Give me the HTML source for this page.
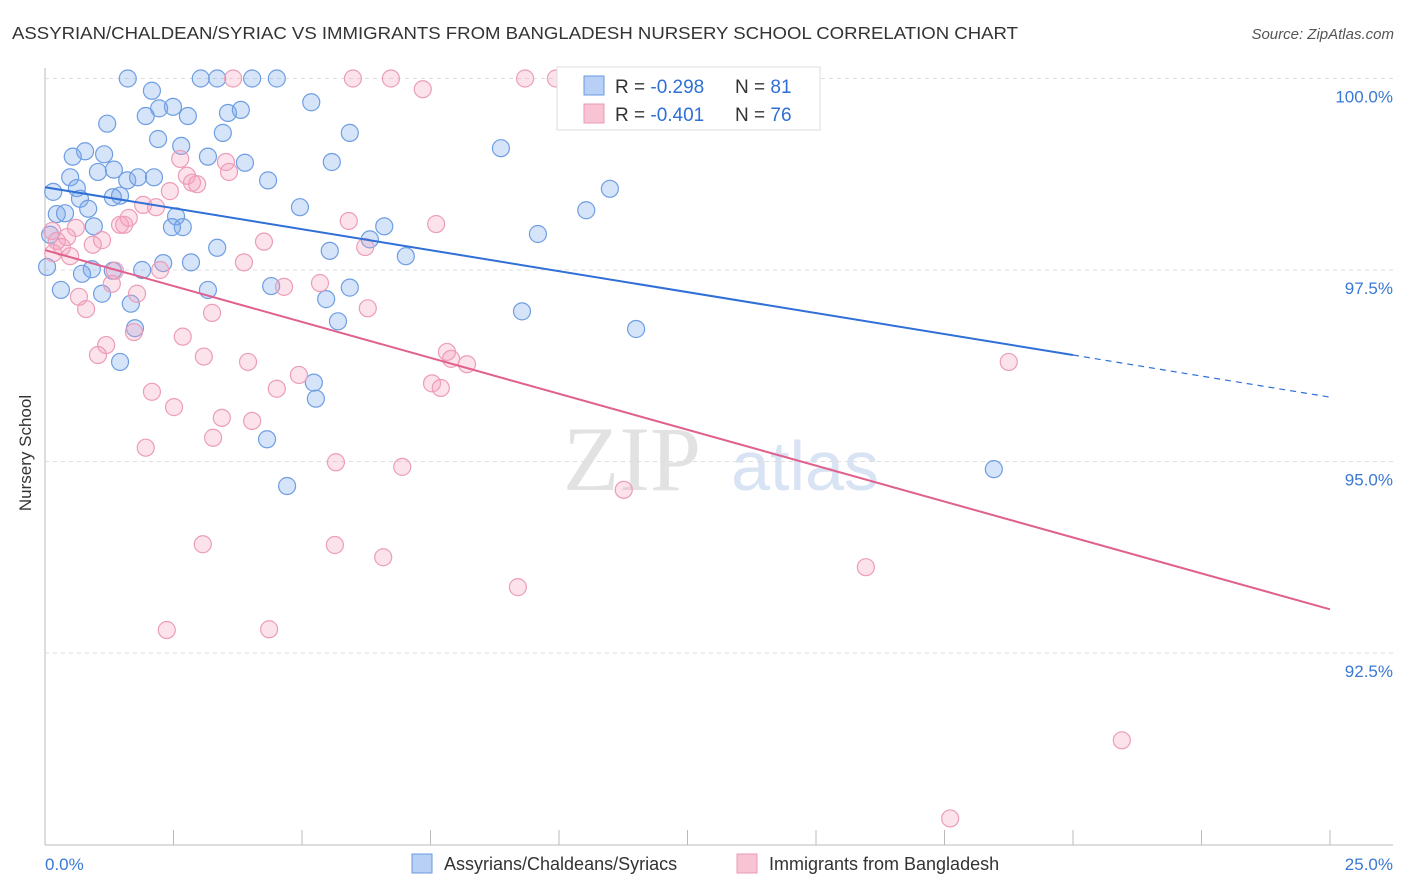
<!DOCTYPE html>
<html><head><meta charset="utf-8"><style>
body{margin:0;background:#fff;font-family:"Liberation Sans",sans-serif;}
svg{display:block}
</style></head><body>
<svg id="chart" width="1406" height="892">
<text x="12" y="39" font-size="17.5" fill="#333" textLength="1006" lengthAdjust="spacingAndGlyphs">ASSYRIAN/CHALDEAN/SYRIAC VS IMMIGRANTS FROM BANGLADESH NURSERY SCHOOL CORRELATION CHART</text>
<text x="1394" y="39" font-size="15" fill="#555" font-style="italic" text-anchor="end">Source: ZipAtlas.com</text>
<text x="33" y="455" font-size="17" fill="#333" text-anchor="middle" transform="rotate(-90 31 455)">Nursery School</text>
<g><text x="632" y="490" font-size="92" font-family="Liberation Serif" fill="#e2e2e2" text-anchor="middle">ZIP</text><text x="805" y="490" font-size="70" fill="#d8e3f3" text-anchor="middle">atlas</text></g>
<g id="grid"></g><g id="pts"></g><g id="lines"></g>
<g>
<rect x="557" y="67" width="263" height="63" fill="#fff" stroke="#ddd"/>
<rect x="584" y="76" width="20" height="19" fill="#b8d0f5" stroke="#6a9ae0"/>
<rect x="584" y="104" width="20" height="19" fill="#f8c4d4" stroke="#e89ab5"/>
<text x="615" y="93" font-size="19" fill="#333">R = <tspan fill="#2f6fd6">-0.298</tspan></text>
<text x="735" y="93" font-size="19" fill="#333">N = <tspan fill="#2f6fd6">81</tspan></text>
<text x="615" y="121" font-size="19" fill="#333">R = <tspan fill="#2f6fd6">-0.401</tspan></text>
<text x="735" y="121" font-size="19" fill="#333">N = <tspan fill="#2f6fd6">76</tspan></text>
</g>
<g>
<rect x="412" y="854" width="20" height="19" fill="#b8d0f5" stroke="#6a9ae0"/>
<text x="444" y="870" font-size="18" fill="#333">Assyrians/Chaldeans/Syriacs</text>
<rect x="737" y="854" width="20" height="19" fill="#f8c4d4" stroke="#e89ab5"/>
<text x="769" y="870" font-size="18" fill="#333">Immigrants from Bangladesh</text>
</g>
</svg>
<script>
const blueX=[1.61,3.03,3.35,4.03,4.51,2.08,2.22,2.49,2.78,1.96,3.56,3.81,5.18,1.21,3.46,5.93,2.20,2.65,0.78,0.54,1.15,3.17,3.89,5.58,8.87,1.34,1.03,0.49,1.60,1.81,2.12,4.34,10.99,0.62,0.16,1.46,1.32,0.68,4.96,10.53,0.23,0.39,0.84,2.55,2.47,2.68,0.95,6.60,9.59,6.32,3.35,5.54,7.02,2.30,2.84,0.91,0.72,1.32,1.89,4.40,5.93,0.31,3.17,1.11,5.47,1.67,9.28,5.70,1.75,11.50,1.46,5.23,5.27,4.32,18.46,4.71,0.04,0.10];
const blueY=[100,100,100,100,100,99.84,99.61,99.63,99.51,99.51,99.55,99.59,99.69,99.41,99.29,99.29,99.21,99.12,99.05,98.98,99.01,98.98,98.90,98.91,99.09,98.81,98.78,98.71,98.67,98.71,98.71,98.67,98.56,98.57,98.52,98.47,98.45,98.43,98.32,98.28,98.23,98.24,98.30,98.20,98.06,98.06,98.07,98.07,97.97,97.90,97.79,97.75,97.68,97.59,97.60,97.51,97.45,97.49,97.50,97.29,97.27,97.24,97.24,97.19,97.12,97.06,96.96,96.83,96.74,96.73,96.30,96.03,95.82,95.29,94.90,94.68,97.54,97.96];
const pinkX=[3.66,5.99,6.73,9.34,9.94,7.35,2.63,3.52,3.58,2.76,2.86,2.96,2.43,1.91,2.16,1.63,1.46,1.54,5.91,7.61,0.14,0.60,0.43,1.11,0.23,4.26,0.33,6.23,0.16,0.49,0.93,3.87,2.24,1.36,5.35,4.65,1.30,1.79,0.66,0.80,6.28,3.25,1.73,2.68,1.19,1.03,3.09,3.95,7.82,7.90,8.21,18.75,4.94,7.53,7.70,4.51,2.08,2.51,3.44,4.03,3.27,1.96,5.66,6.95,11.26,3.07,5.64,6.58,15.97,9.20,2.37,4.36,20.95,17.61];
const pinkY=[100,100,100,100,100,99.86,98.95,98.91,98.78,98.73,98.64,98.62,98.53,98.35,98.32,98.18,98.09,98.09,98.14,98.10,98.01,98.05,97.93,97.89,97.88,97.87,97.80,97.80,97.72,97.68,97.83,97.60,97.50,97.49,97.33,97.28,97.32,97.19,97.15,96.99,97.00,96.94,96.69,96.63,96.52,96.39,96.37,96.30,96.43,96.34,96.27,96.30,96.13,96.02,95.96,95.95,95.91,95.71,95.57,95.53,95.31,95.18,94.99,94.93,94.63,93.92,93.91,93.75,93.62,93.36,92.80,92.81,91.36,90.34];
const yTicks=[100,97.5,95,92.5];
const yTickLabels=["100.0%","97.5%","95.0%","92.5%"];
const blueTrend=[[0,98.58],[20,96.39],[25,95.84]];
const pinkTrend=[[0,97.76],[25,93.07]];
const X=v=>45+v/25*1285, Y=v=>78.5+(100-v)*76.6;
const NS="http://www.w3.org/2000/svg";
function mk(tag,attrs,parent){const e=document.createElementNS(NS,tag);for(const k in attrs)e.setAttribute(k,attrs[k]);parent.appendChild(e);return e;}
const grid=document.getElementById('grid');
let ax=mk('line',{x1:45,y1:68,x2:45,y2:845,stroke:'#bbb'},grid);


let bx=mk('line',{x1:45,y1:845,x2:1393,y2:845,stroke:'#bbb'},grid);


yTicks.forEach((t,i)=>{
 const g=mk('line',{x1:45,y1:Y(t),x2:1393,y2:Y(t),stroke:'#ddd','stroke-dasharray':'4,4'},grid);
 
 
 const l=mk('text',{x:1393,y:Y(t)+24,'font-size':17,fill:'#3a78d4','text-anchor':'end'},grid);
 l.textContent=yTickLabels[i];
 
 
});
for(let i=0;i<=10;i++){const x=X(i*2.5);const t=mk('line',{x1:x,y1:830,x2:x,y2:845,stroke:'#bbb'},grid);
 
 }
[["0.0%",45,'start'],["25.0%",1393,'end']].forEach(a=>{const l=mk('text',{x:a[1],y:870,'font-size':17,fill:'#3a78d4','text-anchor':a[2]},grid);l.textContent=a[0];
 
 });
const pts=document.getElementById('pts');
blueX.forEach((v,i)=>{const c=mk('circle',{cx:X(v),cy:Y(blueY[i]),r:8.5,fill:'rgba(120,165,235,0.3)',stroke:'#6e9ee2','stroke-width':1.2},pts);
 
 });
pinkX.forEach((v,i)=>{const c=mk('circle',{cx:X(v),cy:Y(pinkY[i]),r:8.5,fill:'rgba(245,160,190,0.3)',stroke:'#ec9db8','stroke-width':1.2},pts);
 
 });
const lines=document.getElementById('lines');
let b1=mk('line',{x1:X(blueTrend[0][0]),y1:Y(blueTrend[0][1]),x2:X(blueTrend[1][0]),y2:Y(blueTrend[1][1]),stroke:'#2f6fd6','stroke-width':2},lines);


let b2=mk('line',{x1:X(blueTrend[1][0]),y1:Y(blueTrend[1][1]),x2:X(blueTrend[2][0]),y2:Y(blueTrend[2][1]),stroke:'#2f6fd6','stroke-width':1.2,'stroke-dasharray':'6,5'},lines);


let p1=mk('line',{x1:X(pinkTrend[0][0]),y1:Y(pinkTrend[0][1]),x2:X(pinkTrend[1][0]),y2:Y(pinkTrend[1][1]),stroke:'#e0608e','stroke-width':2},lines);


</script>
</body></html>
